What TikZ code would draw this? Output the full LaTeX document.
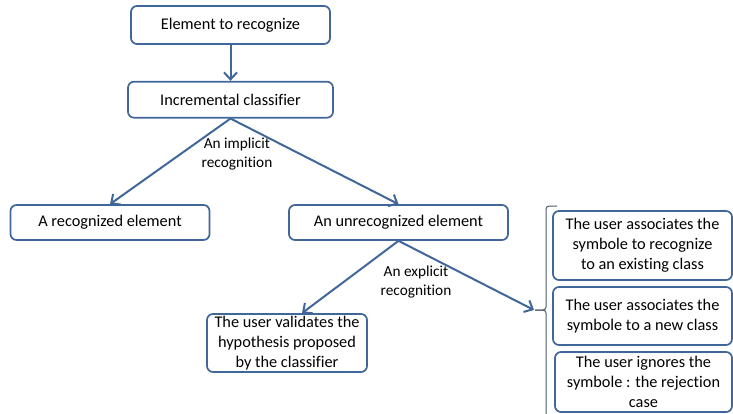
\documentclass[tikz,border=0pt]{standalone}
\usepackage{fontspec}
\setmainfont{Carlito}[Ligatures=CommonOff]
\usetikzlibrary{positioning, arrows.meta}
\definecolor{boxblue}{HTML}{41679A}
\definecolor{bracegray}{HTML}{4A5A72}
\tikzset{
 block/.style = {
    rectangle, draw=boxblue, line width=1.7pt,
    rounded corners=6pt,
    align=center,
    inner sep=2pt,
    font=\fontsize{16.3}{20}\selectfont},
 line/.style = {
    draw=boxblue, line width=2pt, -{Straight Barb[length=7pt,width=13pt]}},
 arrow label/.style = {
    align=center, font=\fontsize{15.3}{19}\selectfont},
 group brace/.style = {
    draw=bracegray, line width=1pt, rounded corners=3pt},
}

\begin{document}
\begin{tikzpicture}[x=1pt, y=-1pt]
\useasboundingbox (0,0) rectangle (733,413);

% Place nodes
\node [block, minimum width=199pt, minimum height=38pt] (elem) at (230.5,25) {Element to recognize};
\node [block, minimum width=205pt, minimum height=36pt, below=36pt of elem] (incr) {Incremental classifier};
\node [block, minimum width=199pt, minimum height=35pt] (recog) at (110,222.5) {A recognized element};
\node [block, minimum width=219pt, minimum height=35pt] (unrec) at (398.5,222.5) {An unrecognized element};
\node [block, minimum width=160pt, minimum height=58pt] (valid) at (287,343) {The user validates the\\hypothesis proposed\\by the classifier};
\node [block, minimum width=179pt, minimum height=69pt] (exist) at (642.5,245.5) {The user associates the\\symbole to recognize\\to an existing class};
\node [block, minimum width=179pt, minimum height=58pt] (new) at (642.5,316) {The user associates the\\symbole to a new class};
\node [block, minimum width=177pt, minimum height=60pt] (reject) at (643.5,382) {The user ignores the\\symbole : the rejection\\case};

\node [arrow label] (implicit) at (237,154) {An implicit\\recognition};
\node [arrow label] (explicit) at (416,282) {An explicit\\recognition};

% Brace grouping the three user actions
\coordinate (bracetip) at (535,310);
\path [group brace] (557,206) -- (546,206) -- (546,310) -- (bracetip);
\path [group brace] (bracetip) -- (546,310) -- (546,420);

% Connectors
\path [line] (elem) -- (incr);
\path [line] (incr.south) -- (recog.north);
\path [line] (incr.south) -- (unrec.north);
\path [line] (unrec.south) -- ([xshift=15pt]valid.north);
\path [line] (unrec.south) -- ([xshift=-1pt]bracetip);

\end{tikzpicture}
\end{document}
